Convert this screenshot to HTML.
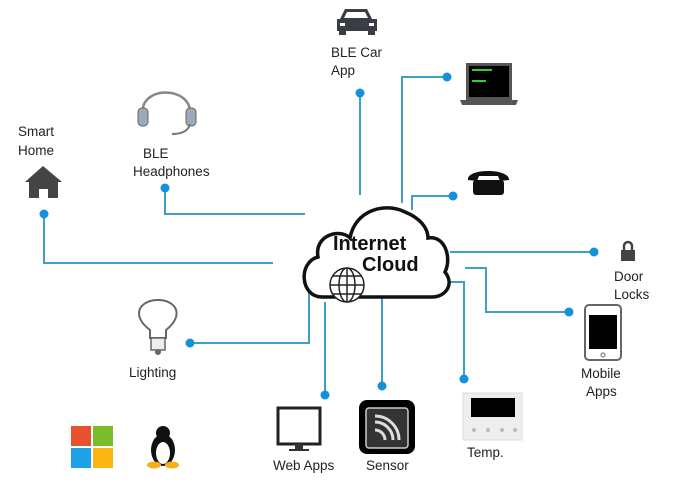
<!DOCTYPE html>
<html><head><meta charset="utf-8"><style>
html,body{margin:0;padding:0;background:#fff;}
svg{display:block;font-family:"Liberation Sans",sans-serif;}
</style></head><body>
<svg width="674" height="486" viewBox="0 0 674 486" xmlns="http://www.w3.org/2000/svg">
<g stroke="#3d9fc6" stroke-width="2" fill="none">
<polyline points="360,93 360,195"/>
<polyline points="402,203 402,77 447,77"/>
<polyline points="412,210 412,196 453,196"/>
<polyline points="165,188 165,214 305,214"/>
<polyline points="44,214 44,263 273,263"/>
<polyline points="450,252 594,252"/>
<polyline points="465,268 486,268 486,312 569,312"/>
<polyline points="447,282 464,282 464,379"/>
<polyline points="190,343 309,343 309,285"/>
<polyline points="325,302 325,395"/>
<polyline points="382,295 382,386"/>
</g>
<g fill="#1591dc">
<circle cx="360" cy="93" r="4.5"/><circle cx="447" cy="77" r="4.5"/><circle cx="453" cy="196" r="4.5"/>
<circle cx="165" cy="188" r="4.5"/><circle cx="44" cy="214" r="4.5"/><circle cx="594" cy="252" r="4.5"/>
<circle cx="569" cy="312" r="4.5"/><circle cx="464" cy="379" r="4.5"/><circle cx="190" cy="343" r="4.5"/>
<circle cx="325" cy="395" r="4.5"/><circle cx="382" cy="386" r="4.5"/>
</g>
<!-- cloud -->
<path d="M322,297 C300,297 298,262 318,257 C314,235 340,228 350,238 C355,210 385,202 405,212 C420,218 428,228 428,238 C445,235 452,258 445,272 C455,285 445,297 432,297 Z" fill="#fff" stroke="#111" stroke-width="3.5"/>
<text x="333" y="250" font-size="20" font-weight="bold" fill="#111">Internet</text>
<text x="362" y="271" font-size="20" font-weight="bold" fill="#111">Cloud</text>
<g stroke="#222" stroke-width="1.5" fill="#fff">
<circle cx="347" cy="285" r="17"/>
<ellipse cx="347" cy="285" rx="8" ry="17" fill="none"/>
<line x1="347" y1="268" x2="347" y2="302"/><line x1="330" y1="285" x2="364" y2="285"/>
<line x1="333" y1="276" x2="361" y2="276"/><line x1="333" y1="294" x2="361" y2="294"/>
</g>
<!-- car -->
<path d="M345,9 L367,9 L372,19 L377,19 L377,31 L337,31 L337,19 L340,19Z" fill="#3a3d44"/>
<rect x="339" y="30" width="7" height="5" fill="#3a3d44"/><rect x="368" y="30" width="7" height="5" fill="#3a3d44"/>
<path d="M347,12 L365,12 L368,18 L344,18Z" fill="#fff"/>
<rect x="340" y="23" width="5" height="3" fill="#fff"/><rect x="369" y="23" width="5" height="3" fill="#fff"/>
<!-- laptop -->
<rect x="466" y="63" width="46" height="37" fill="#555"/><rect x="469" y="66" width="40" height="31" fill="#000"/>
<rect x="472" y="69" width="20" height="2" fill="#3c3"/><rect x="472" y="80" width="14" height="2" fill="#3c3"/>
<path d="M460,100 L518,100 L516,105 L462,105Z" fill="#555"/>
<!-- phone -->
<path d="M468,180 C466,168 510,168 509,180 L500,181 L498,176 L479,176 L477,181Z" fill="#111"/>
<rect x="473" y="180" width="31" height="15" rx="3" fill="#111"/>
<!-- lock -->
<rect x="621" y="250" width="14" height="11" fill="#444"/><path d="M624,250 v-4 a4,4 0 0 1 8,0 v4" stroke="#444" stroke-width="2.5" fill="none"/>
<!-- mobile -->
<rect x="585" y="305" width="36" height="55" rx="4" fill="#fff" stroke="#666" stroke-width="2"/>
<rect x="589" y="315" width="28" height="34" fill="#000"/><circle cx="603" cy="355" r="2" fill="none" stroke="#666"/>
<!-- temp -->
<rect x="463" y="393" width="59" height="47" fill="#eceef0" stroke="#ddd"/>
<rect x="471" y="398" width="44" height="19" fill="#000"/>
<g fill="#bbb"><circle cx="474" cy="430" r="2"/><circle cx="488" cy="430" r="2"/><circle cx="502" cy="430" r="2"/><circle cx="515" cy="430" r="2"/></g>
<!-- sensor -->
<rect x="359" y="400" width="56" height="54" rx="8" fill="#000"/>
<rect x="366" y="408" width="42" height="40" rx="3" fill="#333" stroke="#ccc" stroke-width="1.5"/>
<g stroke="#ddd" stroke-width="3" fill="none"><path d="M375,422 a18,18 0 0 1 18,18"/><path d="M375,430 a10,10 0 0 1 10,10"/><path d="M375,416 a24,24 0 0 1 24,24"/></g>
<!-- monitor -->
<rect x="278" y="408" width="42" height="36" fill="#fff" stroke="#222" stroke-width="3"/>
<rect x="295" y="444" width="8" height="5" fill="#333"/><rect x="289" y="449" width="20" height="2" fill="#333"/>
<!-- bulb -->
<path d="M150,338 L150,330 C130,315 140,300 158,300 C176,300 185,315 166,330 L166,338Z" fill="#fff" stroke="#666" stroke-width="2"/>
<rect x="151" y="338" width="14" height="12" fill="#eee" stroke="#666" stroke-width="1.5"/><circle cx="158" cy="352" r="3" fill="#666"/>
<!-- windows -->
<rect x="71" y="426" width="20" height="20" fill="#e9502e"/><rect x="93" y="426" width="20" height="20" fill="#7cbb2a"/>
<rect x="71" y="448" width="20" height="20" fill="#1da1e8"/><rect x="93" y="448" width="20" height="20" fill="#fbb613"/>
<!-- penguin -->
<ellipse cx="163" cy="450" rx="12" ry="16" fill="#111"/><ellipse cx="163" cy="453" rx="7" ry="11" fill="#fff"/>
<ellipse cx="163" cy="433" rx="7" ry="7" fill="#111"/>
<ellipse cx="154" cy="465" rx="7" ry="3.5" fill="#f5b01b"/><ellipse cx="172" cy="465" rx="7" ry="3.5" fill="#f5b01b"/>
<!-- house -->
<path d="M25,182 L43,166 L62,182 L58,182 L58,198 L48,198 L48,189 L39,189 L39,198 L29,198 L29,182Z" fill="#444"/>
<!-- headphones -->
<path d="M143,115 C138,85 193,85 190,115" stroke="#888" stroke-width="2.5" fill="none"/>
<rect x="138" y="108" width="10" height="18" rx="4" fill="#9ab" stroke="#666"/><rect x="186" y="108" width="10" height="18" rx="4" fill="#9ab" stroke="#666"/>
<path d="M190,124 C188,132 180,134 172,134" stroke="#777" stroke-width="2" fill="none"/>
<g font-size="13.5" fill="#222">
<text x="331" y="57">BLE Car</text><text x="331" y="75">App</text>
<text x="18" y="136">Smart</text><text x="18" y="155">Home</text>
<text x="143" y="158">BLE</text><text x="133" y="176">Headphones</text>
<text x="614" y="281">Door</text><text x="614" y="299">Locks</text>
<text x="581" y="378">Mobile</text><text x="586" y="396">Apps</text>
<text x="129" y="377">Lighting</text>
<text x="273" y="470">Web Apps</text><text x="366" y="470">Sensor</text>
<text x="467" y="457">Temp.</text>
</g>
</svg>
</body></html>
